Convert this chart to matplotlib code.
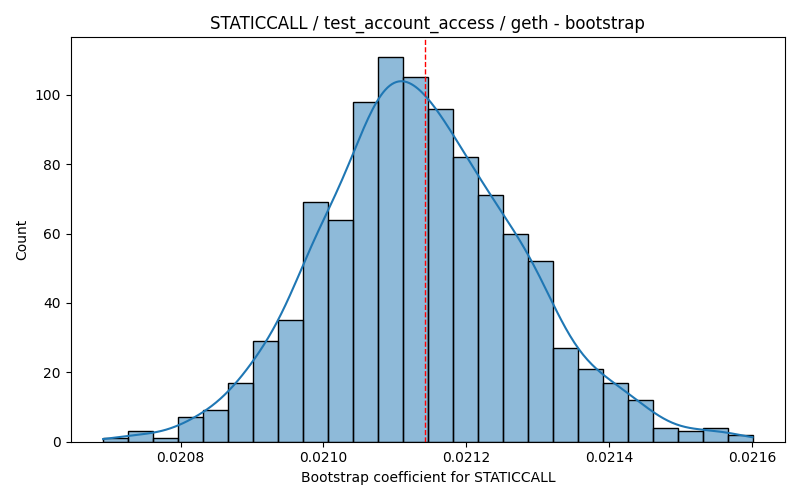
import numpy as np
import matplotlib
matplotlib.use("Agg")
import matplotlib.pyplot as plt

counts = [1, 3, 1, 7, 9, 17, 29, 35, 69, 64, 98, 111, 105, 96, 82, 71, 60, 52,
          27, 21, 17, 12, 4, 3, 4, 2]
x_min = 0.0206916
x_max = 0.0216007
mean_line = 0.0211427
title = "STATICCALL / test_account_access / geth - bootstrap"
xlabel = "Bootstrap coefficient for STATICCALL"

edges = np.linspace(x_min, x_max, len(counts) + 1)
centers = (edges[:-1] + edges[1:]) / 2
w = np.array(counts, dtype=float)
n = w.sum()
binw = edges[1] - edges[0]

fig, ax = plt.subplots(figsize=(8, 5), dpi=100)
ax.hist(centers, bins=edges, weights=w, facecolor=(0.1216, 0.4667, 0.7059, 0.5),
        edgecolor="black", linewidth=1)

# KDE (Gaussian, Scott's rule with n=1000 samples)
mu = np.sum(w * centers) / n
sd = np.sqrt(np.sum(w * (centers - mu) ** 2) / n + binw ** 2 / 12)
bw = sd * n ** (-1 / 5)
grid = np.linspace(x_min, x_max, 300)
dens = np.sum(w[:, None] * np.exp(-0.5 * ((grid[None, :] - centers[:, None]) / bw) ** 2), axis=0)
dens /= (n * bw * np.sqrt(2 * np.pi))
ax.plot(grid, dens * n * binw, color="C0", lw=1.5)

ax.axvline(mean_line, color="red", ls="--", lw=1)
ax.set_title(title)
ax.set_xlabel(xlabel)
ax.set_ylabel("Count")
fig.tight_layout()
fig.savefig("out.png")
